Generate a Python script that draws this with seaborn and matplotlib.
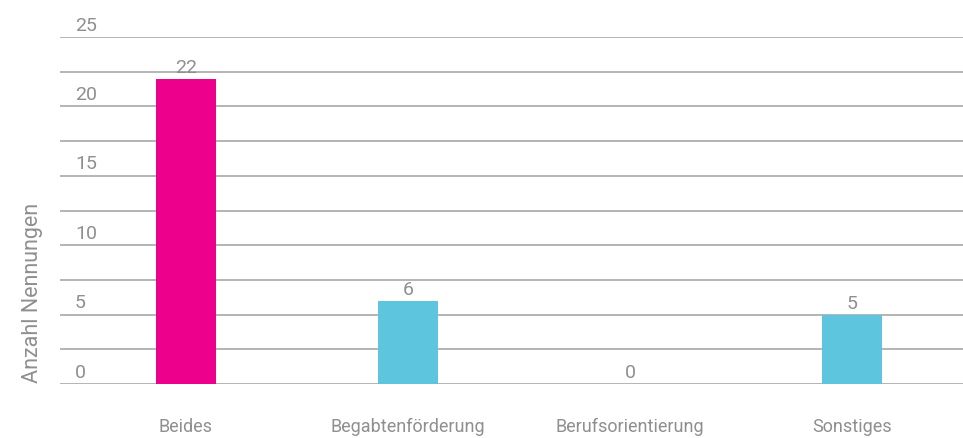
import matplotlib
matplotlib.use("Agg")
import matplotlib.pyplot as plt
import matplotlib.transforms as mtransforms
import seaborn as sns
import pandas as pd

categories = ["Beides", "Begabtenförderung", "Berufsorientierung", "Sonstiges"]
values = [22, 6, 0, 5]
bar_colors = ["#EC008C", "#5EC5DE", "#5EC5DE", "#5EC5DE"]
y_tick_values = [0, 5, 10, 15, 20, 25]
y_label = "Anzahl Nennungen"

sns.set_theme(style="white")
plt.rcParams["font.family"] = ["Roboto", "DejaVu Sans"]

TEXT = "#8f8f8f"
GRID = "#b4b4b4"

df = pd.DataFrame({"cat": categories, "val": values})

fig = plt.figure(figsize=(9.63, 4.39), dpi=100)
ax = fig.add_axes([60/963, 54/439, 903/963, 347/439])

sns.barplot(data=df, x="cat", y="val", hue="cat", palette=bar_colors,
            legend=False, width=0.27, saturation=1, ax=ax, zorder=3,
            linewidth=0)

ax.set_xlim(-0.567, 3.5)
ax.set_ylim(0, 25)
grid_vals = [i * 2.5 for i in range(11)]
ax.set_yticks(grid_vals)
ax.set_yticklabels([])
ax.tick_params(axis="y", length=0)
ax.yaxis.grid(True, color=GRID, linewidth=1.4, zorder=0)
ax.xaxis.grid(False)
for s in ax.spines.values():
    s.set_visible(False)
ax.set_axisbelow(True)

ax.tick_params(axis="x", length=0, pad=24, labelsize=13, labelcolor=TEXT)
ax.set_xlabel("")

trans = mtransforms.blended_transform_factory(ax.transAxes, ax.transData)
for v in y_tick_values:
    ax.annotate(str(v), xy=(15/903, v), xycoords=trans, xytext=(0, 2.5),
                textcoords="offset points", ha="left", va="bottom",
                fontsize=14, color=TEXT)

for i, v in enumerate(values):
    ax.annotate(str(v), xy=(i, v), xytext=(0, 2), textcoords="offset points",
                ha="center", va="bottom", fontsize=14, color=TEXT)

ax.set_ylabel(y_label, fontsize=15.5, color=TEXT)
ax.yaxis.set_label_coords(-17/903, 0.265)

fig.savefig("out.png", dpi=100)
